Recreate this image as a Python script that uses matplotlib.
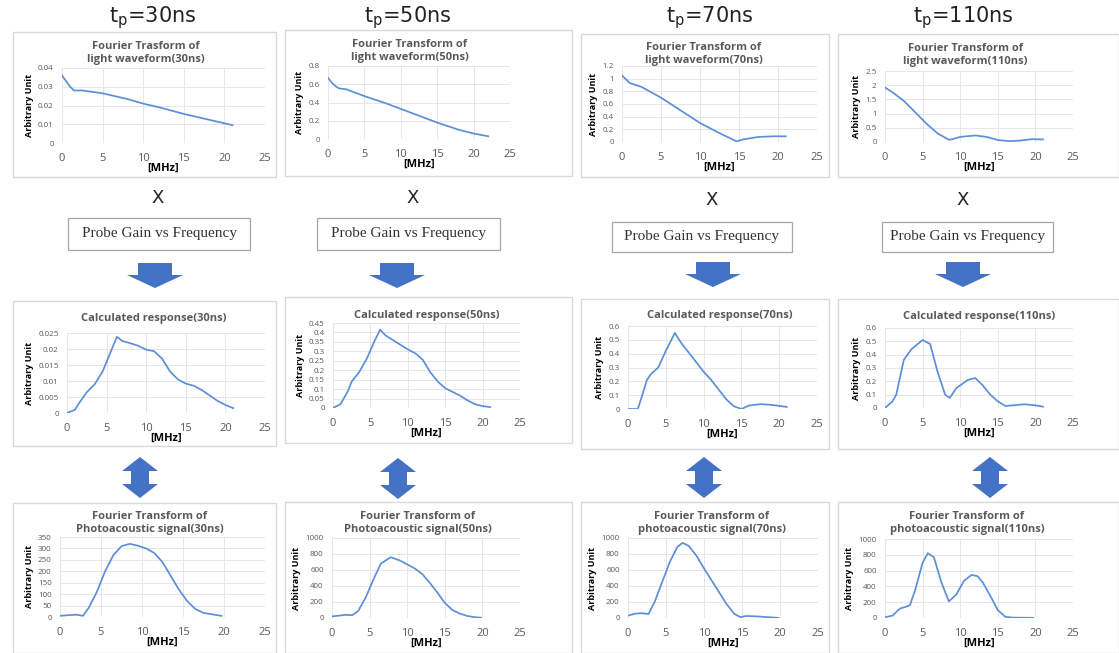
import numpy as np
import matplotlib
matplotlib.use("Agg")
import matplotlib.pyplot as plt
from matplotlib.patches import Rectangle, Polygon

W, H = 1119, 653
LINE = "#5B8FD9"
GRAY = "#595959"

# ---- data ----
pulse = ["30ns", "50ns", "70ns", "110ns"]

# row 1: Fourier transform of light waveform
light_x30 = [0, 0.5, 1, 1.5, 2.5, 5, 8, 10, 12, 15, 18, 21]
light_y30 = [0.036, 0.033, 0.030, 0.028, 0.028, 0.0265, 0.0235, 0.021, 0.019, 0.0155, 0.0125, 0.0095]
light_x50 = [0, 0.5, 1, 1.5, 2.5, 5, 8, 10, 12, 15, 18, 20, 22]
light_y50 = [0.67, 0.62, 0.58, 0.555, 0.545, 0.47, 0.39, 0.33, 0.27, 0.18, 0.10, 0.06, 0.03]
light_x70 = [0, 1, 2.5, 5, 7.5, 10, 12.5, 14.7, 15.5, 17.5, 19.5, 21]
light_y70 = [1.05, 0.93, 0.87, 0.70, 0.50, 0.30, 0.14, 0.01, 0.04, 0.08, 0.09, 0.09]
light_x110 = [0, 1, 2.5, 4, 5.5, 7, 8.5, 9, 10, 12, 13.5, 15, 16.5, 18, 19.5, 21]
light_y110 = [1.92, 1.75, 1.45, 1.05, 0.65, 0.30, 0.08, 0.10, 0.18, 0.23, 0.18, 0.07, 0.03, 0.05, 0.10, 0.09]

# row 2: calculated response
calc_x30 = [0, 1, 1.5, 2.5, 3.5, 4.5, 5.5, 6.3, 7, 8, 9, 10, 11, 12, 13, 14, 15, 16, 17, 18, 19, 20, 21]
calc_y30 = [0, 0.001, 0.003, 0.0065, 0.009, 0.013, 0.019, 0.0238, 0.0225, 0.0218, 0.021, 0.0198, 0.0193,
            0.017, 0.013, 0.0105, 0.0092, 0.0085, 0.0072, 0.0055, 0.0038, 0.0025, 0.0015]
calc_x50 = [0, 1, 2, 2.5, 3.5, 4.5, 5.5, 6.3, 7, 8, 9, 10, 11, 12, 13, 14, 15, 16, 17, 18, 19, 20, 21]
calc_y50 = [0, 0.02, 0.09, 0.14, 0.19, 0.26, 0.35, 0.415, 0.385, 0.36, 0.335, 0.31, 0.29, 0.255, 0.19,
            0.14, 0.105, 0.085, 0.065, 0.04, 0.02, 0.01, 0.005]
calc_x70 = [0, 1.3, 2, 2.5, 3, 4, 5, 6.2, 7, 8, 9, 10, 11, 12, 13, 14, 15, 16, 17.5, 19, 21]
calc_y70 = [0, 0, 0.12, 0.21, 0.25, 0.30, 0.42, 0.55, 0.48, 0.41, 0.34, 0.27, 0.21, 0.14, 0.07, 0.02, 0.0,
            0.025, 0.035, 0.03, 0.015]
calc_x110 = [0, 1, 1.5, 2.5, 3.5, 5, 6, 7, 8, 8.6, 9.5, 11, 12, 13, 14, 15, 16, 17, 18.5, 20, 21]
calc_y110 = [0, 0.05, 0.1, 0.36, 0.44, 0.51, 0.48, 0.27, 0.10, 0.075, 0.15, 0.21, 0.225, 0.17, 0.10,
             0.05, 0.015, 0.02, 0.028, 0.02, 0.01]

# row 3: Fourier transform of photoacoustic signal
pa_x30 = [0, 1, 2, 2.8, 3.5, 4.5, 5.5, 6.5, 7.5, 8.5, 9.5, 10.5, 11.5, 12.5, 13.5, 14.5, 15.5, 16.5, 17.5, 18.5, 19.7]
pa_y30 = [5, 8, 10, 5, 40, 110, 200, 270, 310, 320, 312, 300, 280, 240, 180, 120, 70, 35, 18, 12, 5]
pa_x50 = [0, 1, 1.8, 2.7, 3.5, 4.5, 5.5, 6.5, 7.8, 9, 10, 11, 12, 13, 14, 15, 16, 17, 18, 19, 19.8]
pa_y50 = [20, 30, 40, 35, 90, 260, 480, 680, 760, 720, 670, 620, 550, 440, 320, 190, 100, 55, 25, 10, 5]
pa_x70 = [0, 1, 1.8, 2.7, 3.5, 4.5, 5.5, 6.5, 7.2, 8, 9, 10, 11, 12, 13, 14, 14.8, 15.5, 17, 18.5, 19.8]
pa_y70 = [30, 55, 60, 50, 200, 450, 700, 890, 940, 900, 780, 620, 470, 320, 170, 50, 10, 25, 20, 10, 2]
pa_x110 = [0, 1, 2, 2.7, 3.3, 4, 5, 5.7, 6.5, 7.5, 8.5, 9.5, 10.5, 11.5, 12.3, 13, 14, 15, 16, 17, 19.7]
pa_y110 = [10, 30, 120, 140, 160, 350, 700, 820, 770, 450, 210, 300, 470, 545, 530, 450, 280, 100, 15, 5, 2]

light_titles = ["Fourier Trasform of\nlight waveform(30ns)", "Fourier Transform of\nlight waveform(50ns)",
                "Fourier Transform of\nlight waveform(70ns)", "Fourier Transform of\nlight waveform(110ns)"]
calc_titles = ["Calculated response(30ns)", "Calculated response(50ns)",
               "Calculated response(70ns)", "Calculated response(110ns)"]
pa_titles = ["Fourier Transform of\nPhotoacoustic signal(30ns)", "Fourier Transform of\nPhotoacoustic signal(50ns)",
             "Fourier Transform of\nphotoacoustic signal(70ns)", "Fourier Transform of\nphotoacoustic signal(110ns)"]

light_yticks = [np.arange(0, 0.041, 0.01), np.arange(0, 0.81, 0.2), np.arange(0, 1.21, 0.2), np.arange(0, 2.51, 0.5)]
calc_yticks = [np.arange(0, 0.0251, 0.005), np.arange(0, 0.451, 0.05), np.arange(0, 0.61, 0.1), np.arange(0, 0.61, 0.1)]
pa_yticks = [np.arange(0, 351, 50), np.arange(0, 1001, 200), np.arange(0, 1001, 200), np.arange(0, 1001, 200)]

light_x = [light_x30, light_x50, light_x70, light_x110]
light_y = [light_y30, light_y50, light_y70, light_y110]
calc_x = [calc_x30, calc_x50, calc_x70, calc_x110]
calc_y = [calc_y30, calc_y50, calc_y70, calc_y110]
pa_x = [pa_x30, pa_x50, pa_x70, pa_x110]
pa_y = [pa_y30, pa_y50, pa_y70, pa_y110]

# ---- layout in pixels ----
boxes = [
    [(13, 32, 276, 177), (285, 30, 572, 176), (581, 34, 829, 177), (838, 34, 1119, 177)],
    [(13, 301, 276, 446), (285, 297, 572, 443), (581, 299, 829, 449), (838, 299, 1119, 449)],
    [(13, 503, 276, 653), (285, 502, 572, 653), (581, 502, 829, 653), (838, 502, 1119, 653)],
]
axes_px = [
    [(62, 265, 68, 143), (328, 510, 66, 139), (622, 817, 66, 142), (885, 1073, 71, 142)],
    [(67, 265, 333, 413), (333, 520, 323, 408), (628, 817, 326, 409), (885, 1073, 328, 408)],
    [(60, 265, 537, 617), (332, 520, 538, 618), (628, 818, 538, 618), (885, 1073, 539, 618)],
]
title_px = [
    [(146, 53), (410, 51), (704, 54), (965, 55)],
    [(154, 318), (427, 315), (720, 315), (979, 317)],
    [(150, 523), (418, 523), (712, 523), (967, 523)],
]
tp_px = [(153, 18), (408, 18), (710, 18), (963, 18)]
x_px = [(158, 198), (413, 198), (712, 200), (963, 200)]
probe_px = [(68, 218, 250, 250), (317, 218, 500, 250), (612, 222, 792, 252), (882, 222, 1053, 252)]
down_px = [(155, 263), (397, 263), (713, 262), (963, 262)]
dbl_px = [(140, 457), (398, 458), (704, 457), (990, 457)]

plt.rcParams["font.family"] = ["Open Sans", "DejaVu Sans"]
fig = plt.figure(figsize=(W / 100, H / 100), dpi=100)


def fx(x):
    return x / W


def fy(y):
    return 1 - y / H


def poly(pts):
    fig.patches.append(Polygon([(fx(a), fy(b)) for a, b in pts], closed=True,
                               transform=fig.transFigure, facecolor="#4472C4", edgecolor="none"))


def panel(r, c, xs, ys, title, yticks):
    x0, y0, x1, y1 = boxes[r][c]
    fig.patches.append(Rectangle((fx(x0), fy(y1)), fx(x1 - x0), (y1 - y0) / H, transform=fig.transFigure,
                                 facecolor="white", edgecolor="#d9d9d9", lw=1, zorder=-5))
    a0, a1, t, b = axes_px[r][c]
    ax = fig.add_axes([fx(a0), fy(b), fx(a1 - a0), (b - t) / H])
    ax.patch.set_alpha(0)
    ax.plot(xs, ys, color=LINE, lw=1.25, solid_joinstyle="round")
    ax.set_xlim(0, 25)
    ax.set_ylim(0, yticks[-1])
    ax.set_xticks(np.arange(0, 26, 5))
    ax.set_yticks(yticks)
    ax.set_yticklabels(["{:g}".format(round(v, 4)) for v in yticks])
    ax.grid(True, color="#e6e6e6", lw=0.7)
    ax.set_axisbelow(True)
    for s in ax.spines.values():
        s.set_visible(False)
    ax.tick_params(length=0, colors=GRAY)
    ax.tick_params(axis="x", labelsize=8, pad=7)
    ax.tick_params(axis="y", labelsize=5.8, pad=6)
    ax.set_xlabel("[MHz]", fontsize=8, fontweight="bold", labelpad=-1)
    ax.set_ylabel("Arbitrary Unit", fontsize=6.5, fontweight="bold", labelpad=3)
    cx, cy = title_px[r][c]
    fig.text(fx(cx), fy(cy), title, ha="center", va="center", fontsize=8, fontweight="bold",
             color=GRAY, linespacing=1.2)
    return ax


for c in range(4):
    panel(0, c, light_x[c], light_y[c], light_titles[c], light_yticks[c])
    panel(1, c, calc_x[c], calc_y[c], calc_titles[c], calc_yticks[c])
    panel(2, c, pa_x[c], pa_y[c], pa_titles[c], pa_yticks[c])

    tx, ty = tp_px[c]
    fig.text(fx(tx), fy(ty), "t$_\\mathregular{p}$=" + pulse[c], ha="center", va="center", fontsize=15,
             family="DejaVu Sans", color="#222222")
    xx, xy = x_px[c]
    fig.text(fx(xx), fy(xy), "X", ha="center", va="center", fontsize=13, family="DejaVu Sans", color="#222222")

    p0, q0, p1, q1 = probe_px[c]
    fig.patches.append(Rectangle((fx(p0), fy(q1)), fx(p1 - p0), (q1 - q0) / H, transform=fig.transFigure,
                                 facecolor="white", edgecolor="#a6a6a6", lw=0.9))
    fig.text(fx((p0 + p1) / 2), fy((q0 + q1) / 2), "Probe Gain vs Frequency", ha="center", va="center",
             fontsize=11, family="Liberation Serif", color="#333333")

    # block arrow pointing down
    dx, dy = down_px[c]
    poly([(dx - 17, dy), (dx + 17, dy), (dx + 17, dy + 12), (dx + 28, dy + 12), (dx, dy + 25),
          (dx - 28, dy + 12), (dx - 17, dy + 12)])
    # double arrow (up/down)
    ux, uy = dbl_px[c]
    poly([(ux, uy), (ux + 18, uy + 14), (ux + 9, uy + 14), (ux + 9, uy + 27), (ux + 18, uy + 27),
          (ux, uy + 41), (ux - 18, uy + 27), (ux - 9, uy + 27), (ux - 9, uy + 14), (ux - 18, uy + 14)])

fig.savefig("out.png", dpi=100, facecolor="white")
